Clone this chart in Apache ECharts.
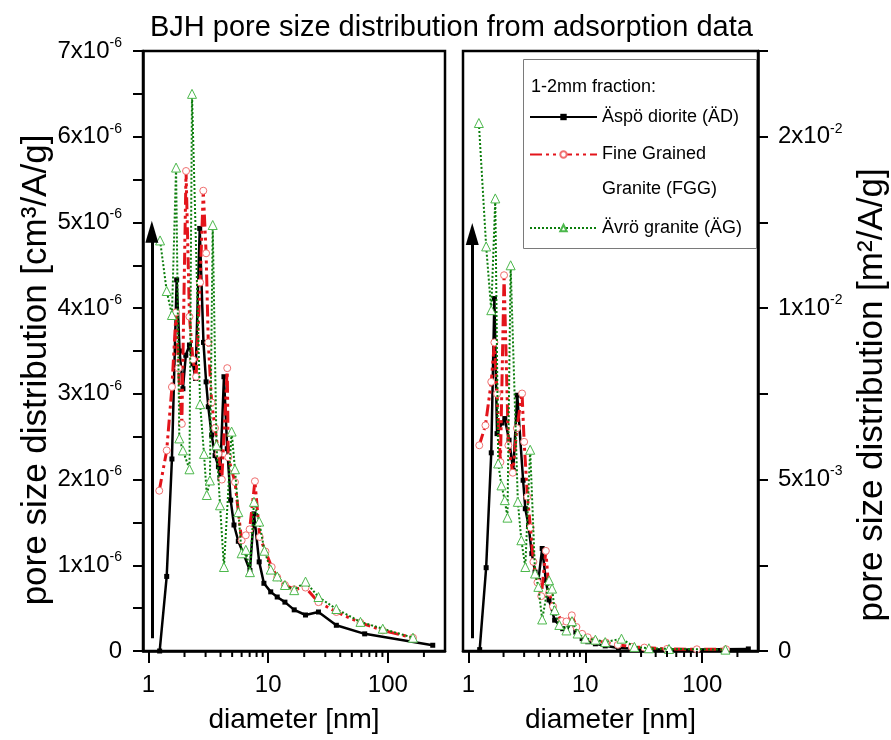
<!DOCTYPE html>
<html>
<head>
<meta charset="utf-8">
<script src="https://cdn.jsdelivr.net/npm/echarts@6/dist/echarts.min.js"></script>
<style>
html,body{margin:0;padding:0;background:#fff;}
#chartDiv{width:891px;height:740px;}
</style>
</head>
<body>
<div id="chartDiv"></div>
<script>
// left panel: pore volume distribution, values in 1e-6 cm3/A/g
var adDiamL = [1.24,1.42,1.57,1.72,1.82,1.94,2.05,2.2,2.35,2.47,2.68,2.88,3.03,3.16,3.37,3.6,3.84,3.96,4.27,4.55,4.86,5.18,5.63,6.28,7.04,7.61,8.41,9.21,10.5,11.9,13.8,16.5,20.5,26.3,37.1,64,237];
var adValL  = [0,0.87,2.24,4.33,3.5,3.06,3.45,3.57,3.35,3.18,4.93,3.6,3.14,2.85,2.52,2.28,2.15,2.02,3.2,2.36,1.76,1.47,1.28,1.12,0.94,1.6,1.04,0.79,0.69,0.63,0.57,0.48,0.42,0.455,0.30,0.20,0.067];
var fggDiamL = [1.23,1.42,1.57,1.70,1.78,1.90,2.06,2.2,2.35,2.5,2.7,2.87,3.03,3.16,3.37,3.6,3.84,4.1,4.55,4.64,5.28,6.0,6.5,7.0,7.75,8.5,9.5,10.7,11.9,13.8,16.5,20.5,26.3,37.1,59,90.6,162];
var fggValL  = [1.87,2.34,3.08,3.95,3.3,2.65,5.6,3.9,3.4,3.2,4.3,5.37,4.64,3.6,2.9,2.6,2.3,2.0,3.3,2.26,1.97,1.29,1.35,1.42,1.98,1.33,1.16,0.98,0.86,0.77,0.72,0.74,0.57,0.455,0.33,0.24,0.155];
var agDiamL = [1.25,1.42,1.57,1.70,1.81,1.94,2.2,2.31,2.70,2.91,3.07,3.26,3.44,3.7,3.96,4.27,4.95,5.28,5.63,6.0,6.5,7.04,7.61,8.41,9.3,10.5,11.9,13.8,16.5,20.5,26.3,37.1,59,90.6,162];
var agValL  = [4.79,4.2,3.92,5.64,2.48,2.34,2.12,6.5,2.88,2.30,1.82,1.99,4.97,2.4,1.70,0.98,2.56,2.12,1.62,1.14,1.18,0.92,1.74,1.51,1.17,0.95,0.87,0.77,0.71,0.81,0.63,0.49,0.34,0.26,0.155];

// right panel: surface area distribution, values in 1e-3 m2/A/g
var adDiamR = [1.25,1.42,1.57,1.67,1.76,1.94,2.05,2.23,2.42,2.62,2.94,3.07,3.27,3.49,3.72,3.97,4.28,4.6,4.9,5.47,6.41,6.9,7.67,8.3,9.4,10.5,12.2,14.8,19.2,31.8,52,248];
var adValR  = [0.04,2.43,5.78,10.28,6.34,6.65,6.78,6.15,5.27,7.46,4.98,4.15,3.67,2.84,2.30,2.06,2.99,2.06,1.49,0.90,0.65,0.6,0.875,0.55,0.36,0.27,0.21,0.15,0.09,0.06,0.04,0.06];
var fggDiamR = [1.24,1.40,1.57,1.67,1.76,1.88,2.02,2.2,2.4,2.6,2.88,3.0,3.2,3.4,3.6,3.9,4.2,4.6,4.9,5.3,6.3,6.9,7.67,8.4,9.4,10.5,12,15,19,25,32,50,90,160];
var fggValR  = [6.0,6.58,7.85,9.0,7.5,5.51,10.96,6.0,5.2,6.5,7.51,6.1,4.5,3.6,2.6,2.0,1.6,2.92,1.7,1.3,0.875,0.86,1.04,0.7,0.5,0.4,0.3,0.25,0.18,0.12,0.1,0.06,0.05,0.05];
var agDiamR = [1.23,1.42,1.57,1.70,1.80,1.92,2.05,2.16,2.30,2.65,2.84,3.07,3.38,3.72,3.97,4.28,4.9,5.2,5.47,6.0,6.9,7.7,8.6,10,12.2,14.8,20.4,26.3,35,52,158];
var agValR  = [15.4,11.8,9.94,13.2,5.47,4.83,4.40,3.89,11.25,4.35,3.23,2.45,5.87,2.26,1.87,0.92,2.06,1.82,1.19,0.76,0.6,0.87,0.51,0.36,0.33,0.26,0.36,0.12,0.08,0.06,0.04];

// arrows (shaft start, head position) in each panel
var arrowL = [[1.067,0.15],[1.067,4.89]];
var arrowR = [[1.08,0.37],[1.08,12.16]];

var minorTicks = [2,3,4,5,6,7,8,9,20,30,40,50,60,70,80,90,200];
var seriesNames = ['Äspö diorite (ÄD)','Fine Grained Granite (FGG)','Ävrö granite (ÄG)'];

var FONT = 'Liberation Sans, Arial, sans-serif';
var RED = '#e3141b', GREEN = '#0b7d0b';

function zip(a,b){
	var out=[];
	for(var i=0;i<a.length;i++){ out.push([a[i],b[i]]); }
	return out;
}
// origin style labels: mantissa rounded to 0 digits
function sciLabel(v,unit){
	if(v===0) return '{n|0}';
	var val = v*unit;
	var e = Math.floor(Math.log10(val)+1e-9);
	var m = Math.round(val/Math.pow(10,e)+1e-9);
	return '{n|'+m+'x10}{s|'+e+'}';
}
var labelRich = {
	n:{fontSize:24,fontFamily:FONT,color:'#000',lineHeight:30},
	s:{fontSize:14,fontFamily:FONT,color:'#000',lineHeight:14,verticalAlign:'top'}
};

function xAxisOpt(gi){
	return {
		type:'log', gridIndex:gi, min:0.9, max:300, logBase:10,
		name:'diameter [nm]', nameLocation:'middle', nameGap:55,
		nameTextStyle:{fontSize:28,fontFamily:FONT,color:'#000'},
		axisLine:{lineStyle:{color:'#000',width:2.5}},
		axisTick:{show:true,inside:false,length:12,lineStyle:{width:2,color:'#000'}},
		axisLabel:{margin:22,fontSize:24,fontFamily:FONT,color:'#000',showMinLabel:false,showMaxLabel:false,
			formatter:function(v){ return String(Math.round(v)); }},
		splitLine:{show:false}
	};
}
function minorTickSeries(i){
	return {
		type:'custom', xAxisIndex:i, yAxisIndex:i, silent:true, clip:false, z:10,
		data: minorTicks.map(function(v){ return [v,0]; }),
		renderItem:function(params,api){
			var p = api.coord([api.value(0),0]);
			return {type:'line',shape:{x1:p[0],y1:p[1],x2:p[0],y2:p[1]+6},style:{stroke:'#000',lineWidth:2}};
		}
	};
}
function arrowShaft(pts){
	return {
		silent:true, animation:false,
		symbol:['none','none'],
		label:{show:false},
		lineStyle:{color:'#000',width:3,type:'solid'},
		data:[[{coord:pts[0]},{coord:pts[1]}]]
	};
}
function arrowHead(i,pts){
	return {
		type:'scatter', xAxisIndex:i, yAxisIndex:i, silent:true, z:6,
		symbol:'triangle', symbolSize:[13,22],
		itemStyle:{color:'#000',opacity:1},
		data:[pts[1]]
	};
}
function lineSeries(kind,i,data){
	var s = {name:seriesNames[kind], type:'line', xAxisIndex:i, yAxisIndex:i, data:data, animation:false};
	if(kind===0){
		s.symbol='rect'; s.symbolSize=5;
		s.lineStyle={color:'#000',width:2.5};
		s.itemStyle={color:'#000'};
		s.z=3;
	}else if(kind===1){
		s.symbol='circle'; s.symbolSize=7;
		s.lineStyle={color:RED,width:3,type:[12,4,3,4,3,4]};
		s.itemStyle={color:'#fff',borderColor:'#f07070',borderWidth:1};
		s.z=4;
	}else{
		s.symbol='triangle'; s.symbolSize=9;
		s.lineStyle={color:GREEN,width:2,type:[2,2]};
		s.itemStyle={color:'#fff',borderColor:'#4cb84c',borderWidth:1};
		s.z=5;
	}
	return s;
}

var legendText = {fontSize:18,fontFamily:FONT,color:'#000'};
var option = {
	animation:false,
	backgroundColor:'#fff',
	title:[
		{text:'BJH pore size distribution from adsorption data',left:145,top:8,
			textStyle:{fontSize:29,fontWeight:'normal',fontFamily:FONT,color:'#000'}},
		{text:'1-2mm fraction:',left:526,top:73,
			textStyle:{fontSize:18,fontWeight:'normal',fontFamily:FONT,color:'#000'}}
	],
	legend:[
		{data:[seriesNames[0]],left:529,top:108,padding:0,itemWidth:67,itemHeight:8,selectedMode:false,
			textStyle:legendText},
		{data:[seriesNames[1]],left:529,top:102,padding:0,itemWidth:67,itemHeight:8,selectedMode:false,
			formatter:function(){ return ' \nFine Grained\nGranite (FGG)'; },
			textStyle:{fontSize:18,fontFamily:FONT,color:'#000',lineHeight:35}},
		{data:[seriesNames[2]],left:529,top:219,padding:0,itemWidth:67,itemHeight:8,selectedMode:false,
			textStyle:legendText}
	],
	graphic:[
		{type:'rect',left:521,top:57,shape:{width:233,height:189},style:{fill:'none',stroke:'#7a7a7a',lineWidth:1},z:100}
	],
	grid:[
		{left:143,top:51,width:302,height:600,show:true,borderColor:'#000',borderWidth:2.5},
		{left:463,top:51,width:302,height:600,show:true,borderColor:'#000',borderWidth:2.5}
	],
	xAxis:[xAxisOpt(0),xAxisOpt(1)],
	yAxis:[
		{type:'value',gridIndex:0,min:0,max:7,interval:1,position:'left',
			name:'pore size distribution [cm³/A/g]',nameLocation:'middle',nameGap:85,nameRotate:90,
			nameTextStyle:{fontSize:35,fontFamily:FONT,color:'#000',padding:[0,38,0,0]},
			axisLine:{show:true,lineStyle:{color:'#000',width:2.5}},
			axisTick:{show:true,length:10,lineStyle:{width:2,color:'#000'}},
			minorTick:{show:true,splitNumber:2,length:10,lineStyle:{width:2,color:'#000'}},
			axisLabel:{margin:21,formatter:function(v){ return sciLabel(v,1e-6); },rich:labelRich},
			splitLine:{show:false}},
		{type:'value',gridIndex:1,min:0,max:17.5,interval:5,position:'right',
			name:'pore size distribution [m²/A/g]',nameLocation:'middle',nameGap:97,nameRotate:90,
			nameTextStyle:{fontSize:35,fontFamily:FONT,color:'#000',padding:[0,88,0,0]},
			axisLine:{show:true,lineStyle:{color:'#000',width:2.5}},
			axisTick:{show:true,length:10,lineStyle:{width:2,color:'#000'}},
			minorTick:{show:true,splitNumber:2,length:10,lineStyle:{width:2,color:'#000'}},
			axisLabel:{margin:20,showMaxLabel:false,formatter:function(v){ return sciLabel(v,1e-3); },rich:labelRich},
			splitLine:{show:false}}
	],
	series:[]
};

var left0 = lineSeries(0,0,zip(adDiamL,adValL));
left0.markLine = arrowShaft(arrowL);
var right0 = lineSeries(0,1,zip(adDiamR,adValR));
right0.markLine = arrowShaft(arrowR);
option.series = [
	left0,
	lineSeries(1,0,zip(fggDiamL,fggValL)),
	lineSeries(2,0,zip(agDiamL,agValL)),
	right0,
	lineSeries(1,1,zip(fggDiamR,fggValR)),
	lineSeries(2,1,zip(agDiamR,agValR)),
	arrowHead(0,arrowL),
	arrowHead(1,arrowR),
	minorTickSeries(0),
	minorTickSeries(1)
];

var myCharts1 = echarts.init(document.getElementById('chartDiv'));
myCharts1.setOption(option,true);
</script>
</body>
</html>
